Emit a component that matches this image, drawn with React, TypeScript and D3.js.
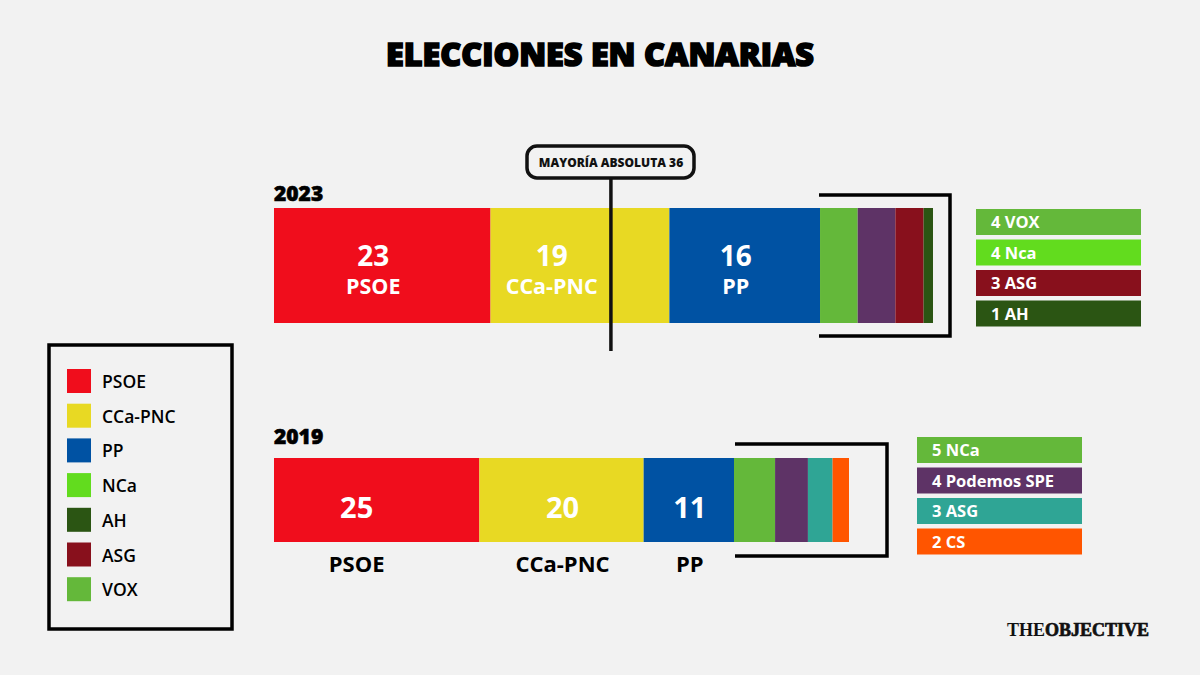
import React from "react";
import * as d3 from "d3";

const parties2023 = ["PSOE", "CCa-PNC", "PP", "VOX", "Podemos", "ASG", "AH"];
const seats2023 = [23, 19, 16, 4, 4, 3, 1];
const colors2023 = ["#f00d1c", "#e8d923", "#0052a3", "#64b83a", "#5e3366", "#88101c", "#2b5513"];

const parties2019 = ["PSOE", "CCa-PNC", "PP", "NCa", "Podemos SPE", "ASG", "CS"];
const seats2019 = [25, 20, 11, 5, 4, 3, 2];
const colors2019 = ["#f00d1c", "#e8d923", "#0052a3", "#64b83a", "#5e3366", "#2fa595", "#ff5500"];

const side2023 = ["4 VOX", "4 Nca", "3 ASG", "1 AH"];
const sideColors2023 = ["#64b83a", "#62dc1e", "#88101c", "#2b5513"];
const side2019 = ["5 NCa", "4 Podemos SPE", "3 ASG", "2 CS"];
const sideColors2019 = ["#64b83a", "#5e3366", "#2fa595", "#ff5500"];

const legendNames = ["PSOE", "CCa-PNC", "PP", "NCa", "AH", "ASG", "VOX"];
const legendColors = ["#f00d1c", "#e8d923", "#0052a3", "#62dc1e", "#2b5513", "#88101c", "#64b83a"];

const MAJORITY = 36;
const TOTAL = 70;
const FONT = "'Open Sans', 'DejaVu Sans', sans-serif";

function stack(seats: number[]) {
  let acc = 0;
  return seats.map((s) => {
    const r = { x0: acc, x1: acc + s };
    acc += s;
    return r;
  });
}

export default function App() {
  const x23 = d3.scaleLinear().domain([0, TOTAL]).range([274, 933]);
  const x19 = d3.scaleLinear().domain([0, TOTAL]).range([274, 849]);
  const st23 = stack(seats2023);
  const st19 = stack(seats2019);
  const legY = d3.scaleBand().domain(legendNames).range([369, 369 + 34.7 * 7]).paddingInner(0);
  const side23Y = d3.scaleBand().domain(side2023).range([209, 209 + 30.5 * 4]);
  const side19Y = d3.scaleBand().domain(side2019).range([437, 437 + 30.5 * 4]);

  const y23 = 208, h23 = 115;
  const y19 = 458, h19 = 84;
  const mx = x23(MAJORITY);

  const cx23 = st23.slice(0, 3).map((d) => {
    const a = x23(d.x0), b = x23(d.x1);
    if (a < mx && b > mx) return (a + mx) / 2;
    return (a + b) / 2 - 9;
  });
  const cx19 = st19.slice(0, 3).map((d, i) => {
    const a = x19(d.x0), b = x19(d.x1);
    return (a + b) / 2 + (i === 0 ? -20 : 1);
  });

  return (
    <svg width={1200} height={675} style={{ position: "absolute", left: 0, top: 0, background: "#f2f2f2" }}>
      <rect x={0} y={0} width={1200} height={675} fill="#f2f2f2" />
      <text x={600} y={66} textAnchor="middle" fontFamily={FONT} fontWeight={800} fontSize={31} fill="#000" stroke="#000" strokeWidth={1.6} textLength={428} lengthAdjust="spacingAndGlyphs">
        ELECCIONES EN CANARIAS
      </text>

      {/* 2023 */}
      <text x={274} y={201} fontFamily={FONT} fontWeight={800} fontSize={21} fill="#000" stroke="#000" strokeWidth={0.6}>2023</text>
      {st23.map((d, i) => (
        <rect key={i} x={x23(d.x0)} y={y23} width={x23(d.x1) - x23(d.x0)} height={h23} fill={colors2023[i]} />
      ))}
      {cx23.map((cx, i) => (
        <g key={i} fontFamily={FONT} fontWeight={700} fill="#fff" textAnchor="middle">
          <text x={cx} y={266} fontSize={28}>{seats2023[i]}</text>
          <text x={cx} y={294} fontSize={21.5}>{parties2023[i]}</text>
        </g>
      ))}
      <path d={`M819,195 H950 V336 H819`} fill="none" stroke="#000" strokeWidth={3.5} />
      {side2023.map((s, i) => (
        <g key={s}>
          <rect x={976} y={side23Y(s)} width={165} height={26} fill={sideColors2023[i]} />
          <text x={991} y={(side23Y(s) as number) + 19} fontFamily={FONT} fontWeight={700} fontSize={16.5} fill="#fff">{s}</text>
        </g>
      ))}

      {/* majority line */}
      <line x1={mx - 2} x2={mx - 2} y1={178} y2={351} stroke="#111" strokeWidth={3.5} />
      <rect x={527} y={146} width={167} height={32} rx={10} fill="#f2f2f2" stroke="#111" strokeWidth={3.5} />
      <text x={611} y={167} textAnchor="middle" fontFamily={FONT} fontWeight={800} fontSize={12} fill="#111">MAYORÍA ABSOLUTA {MAJORITY}</text>

      {/* 2019 */}
      <text x={274} y={444} fontFamily={FONT} fontWeight={800} fontSize={21} fill="#000" stroke="#000" strokeWidth={0.6}>2019</text>
      {st19.map((d, i) => (
        <rect key={i} x={x19(d.x0)} y={y19} width={x19(d.x1) - x19(d.x0)} height={h19} fill={colors2019[i]} />
      ))}
      {cx19.map((cx, i) => (
        <g key={i} fontFamily={FONT} fontWeight={700} textAnchor="middle">
          <text x={cx} y={518} fontSize={29} fill="#fff">{seats2019[i]}</text>
          <text x={cx} y={572} fontSize={22} fill="#000">{parties2019[i]}</text>
        </g>
      ))}
      <path d={`M735,444 H887 V556 H735`} fill="none" stroke="#000" strokeWidth={3.5} />
      {side2019.map((s, i) => (
        <g key={s}>
          <rect x={917} y={side19Y(s)} width={165} height={26} fill={sideColors2019[i]} />
          <text x={932} y={(side19Y(s) as number) + 19} fontFamily={FONT} fontWeight={700} fontSize={16.5} fill="#fff">{s}</text>
        </g>
      ))}

      {/* legend */}
      <rect x={49} y={345} width={183} height={284} fill="none" stroke="#000" strokeWidth={3.5} />
      {legendNames.map((n, i) => (
        <g key={n}>
          <rect x={67} y={legY(n)} width={24} height={24} fill={legendColors[i]} />
          <text x={102} y={(legY(n) as number) + 19} fontFamily={FONT} fontWeight={600} fontSize={17.5} fill="#000">{n}</text>
        </g>
      ))}

      {/* watermark */}
      <text x={1149} y={636} textAnchor="end" fontFamily="'Liberation Serif', 'DejaVu Serif', serif" fontSize={18} fill="#111">
        <tspan fontWeight={700}>THE</tspan>
        <tspan fontWeight={900} stroke="#111" strokeWidth={0.7}>OBJECTIVE</tspan>
      </text>
    </svg>
  );
}
